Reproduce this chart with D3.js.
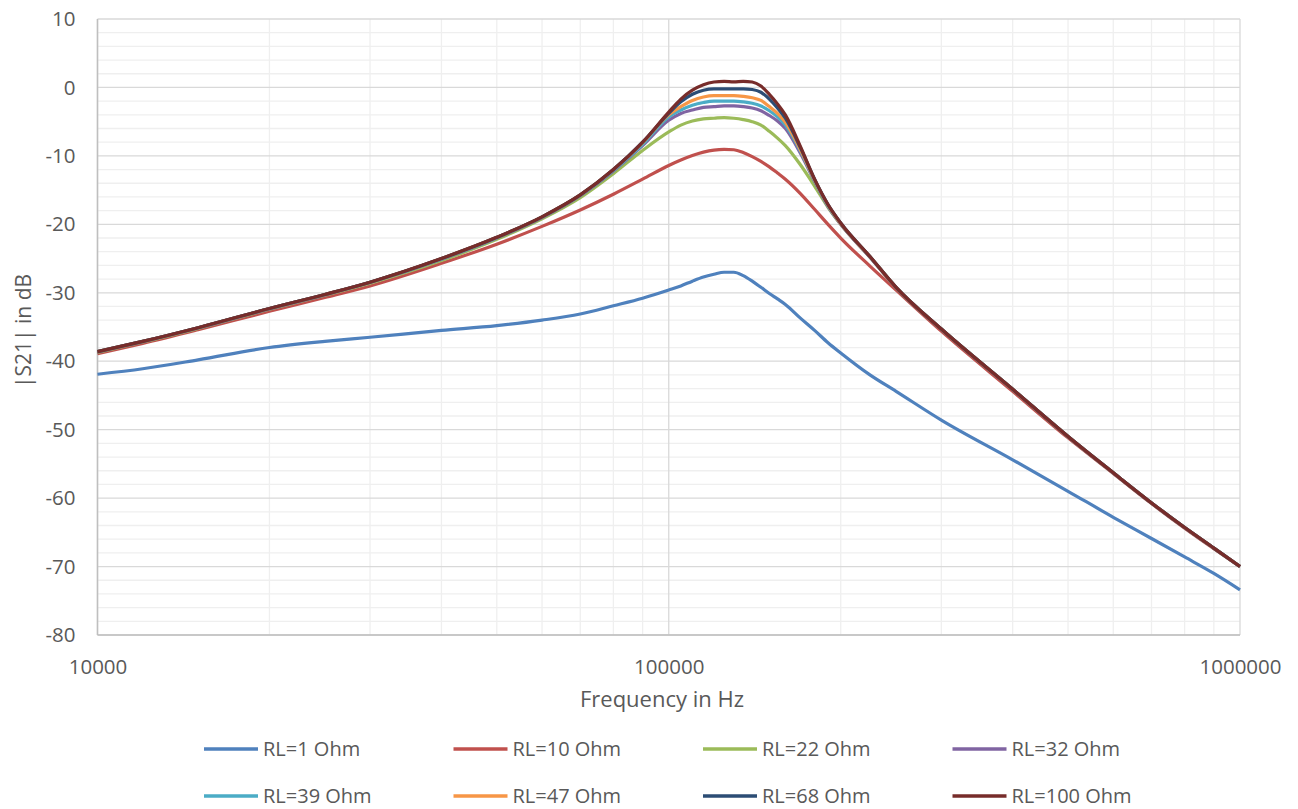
<!DOCTYPE html>
<html>
<head>
<meta charset="utf-8">
<script src="https://cdn.jsdelivr.net/npm/d3@7"></script>
<style>
  body { margin: 0; background: #fff; }
  svg { display: block; font-family: "Open Sans", sans-serif; }
</style>
</head>
<body>
<div id="chart"></div>
<script>
// frequency points (Hz)
const freqs = [10000, 12000, 15000, 20000, 25000, 30000, 40000, 50000, 60000, 70000, 80000, 90000,
  100000, 105000, 110000, 115000, 120000, 125000, 130000, 135000, 140000, 145000, 150000, 155000, 160000,
  170000, 180000, 190000, 200000, 225000, 250000, 300000, 400000, 500000, 600000, 700000, 800000, 900000, 1000000];

const rl1 = [-41.9, -41.1, -39.8, -38.0, -37.1, -36.5, -35.5, -34.8, -34.0, -33.1, -31.9, -30.8,
  -29.6, -29.0, -28.3, -27.7, -27.3, -27.0, -27.0, -27.5, -28.3, -29.2, -30.1, -30.9, -31.7,
  -33.7, -35.5, -37.3, -38.8, -42.0, -44.4, -48.6, -54.4, -59.0, -62.8, -65.9, -68.6, -71.0, -73.4];
const rl10 = [-38.9, -37.4, -35.4, -32.7, -30.7, -29.0, -25.7, -22.9, -20.3, -17.9, -15.6, -13.4,
  -11.4, -10.6, -9.95, -9.45, -9.15, -9.05, -9.1, -9.5, -10.1, -10.8, -11.6, -12.5, -13.4,
  -15.5, -17.8, -20.0, -22.0, -26.1, -29.6, -35.6, -44.4, -51.2, -56.4, -60.8, -64.4, -67.4, -70.0];
const rl22 = [-38.7, -37.2, -35.2, -32.4, -30.35, -28.6, -25.3, -22.2, -19.2, -16.1, -12.6, -9.2,
  -6.5, -5.5, -4.9, -4.6, -4.5, -4.4, -4.5, -4.7, -5.0, -5.5, -6.4, -7.4, -8.5,
  -11.3, -14.4, -17.5, -20.0, -24.8, -29.2, -35.3, -44.1, -51.0, -56.3, -60.7, -64.3, -67.3, -70.0];
const rl32 = [-38.65, -37.15, -35.15, -32.35, -30.3, -28.5, -25.1, -22.0, -19.0, -15.8, -12.2, -8.5,
  -4.8, -3.8, -3.3, -2.9, -2.8, -2.7, -2.7, -2.8, -3.0, -3.4, -4.1, -4.9, -6.0,
  -9.6, -13.7, -17.4, -20.0, -24.8, -29.2, -35.3, -44.1, -51.0, -56.3, -60.7, -64.3, -67.3, -70.0];
const rl39 = [-38.6, -37.1, -35.1, -32.3, -30.25, -28.45, -25.05, -21.95, -18.95, -15.75, -12.1, -8.3,
  -4.3, -3.3, -2.6, -2.2, -2.0, -2.0, -2.0, -2.1, -2.3, -2.7, -3.4, -4.3, -5.5,
  -9.3, -13.6, -17.3, -19.9, -24.7, -29.2, -35.3, -44.1, -51.0, -56.3, -60.7, -64.3, -67.3, -70.0];
const rl47 = [-38.6, -37.1, -35.1, -32.3, -30.25, -28.45, -25.0, -21.9, -18.9, -15.7, -12.0, -8.1,
  -4.0, -2.8, -1.9, -1.4, -1.2, -1.2, -1.2, -1.3, -1.5, -1.9, -2.8, -3.8, -5.1,
  -9.1, -13.5, -17.2, -19.9, -24.7, -29.2, -35.3, -44.1, -51.0, -56.3, -60.7, -64.3, -67.3, -70.0];
const rl68 = [-38.6, -37.1, -35.1, -32.3, -30.25, -28.45, -25.0, -21.9, -18.9, -15.7, -12.0, -8.0,
  -3.8, -2.1, -1.0, -0.4, -0.2, -0.2, -0.2, -0.2, -0.3, -0.7, -1.7, -3.0, -4.5,
  -8.8, -13.4, -17.1, -19.8, -24.7, -29.2, -35.3, -44.1, -51.0, -56.3, -60.7, -64.3, -67.3, -70.0];
const rl100 = [-38.6, -37.1, -35.1, -32.3, -30.25, -28.45, -25.0, -21.9, -18.9, -15.7, -12.0, -8.0,
  -3.6, -1.7, -0.4, 0.4, 0.8, 0.9, 0.8, 0.9, 0.8, 0.2, -1.0, -2.4, -4.0,
  -8.6, -13.4, -17.1, -19.8, -24.7, -29.2, -35.3, -44.1, -51.0, -56.3, -60.7, -64.3, -67.3, -70.0];

const seriesNames = ['RL=1 Ohm', 'RL=10 Ohm', 'RL=22 Ohm', 'RL=32 Ohm', 'RL=39 Ohm', 'RL=47 Ohm', 'RL=68 Ohm', 'RL=100 Ohm'];
const seriesValues = [rl1, rl10, rl22, rl32, rl39, rl47, rl68, rl100];
const colors = ['#4F81BD', '#C0504D', '#9BBB59', '#8064A2', '#4BACC6', '#F79646', '#2C4D75', '#772C2A'];

const yTicks = [10, 0, -10, -20, -30, -40, -50, -60, -70, -80];
const xTicks = [10000, 100000, 1000000];

const width = 1298, height = 809;
const margin = { top: 19, right: 58, bottom: 174, left: 97.5 };

let svg = d3.select('#chart')
  .append('svg')
  .attr('width', width)
  .attr('height', height);

let x = d3.scaleLog()
  .domain([1e4, 1e6])
  .range([margin.left, width - margin.right]);

let y = d3.scaleLinear()
  .domain([-80, 10])
  .range([height - margin.bottom, margin.top]);

// minor grid
let minorY = d3.range(-80, 11, 2).filter(v => v % 10 !== 0);
let minorX = [];
[1e4, 1e5].forEach(d => { for (let k = 2; k <= 9; k++) minorX.push(d * k); });

let grid = svg.append('g');
grid.selectAll('.my').data(minorY).enter().append('line')
  .attr('x1', x(1e4)).attr('x2', x(1e6))
  .attr('y1', d => y(d)).attr('y2', d => y(d))
  .attr('stroke', '#efefef').attr('stroke-width', 1.3);
grid.selectAll('.mx').data(minorX).enter().append('line')
  .attr('x1', d => x(d)).attr('x2', d => x(d))
  .attr('y1', y(10)).attr('y2', y(-80))
  .attr('stroke', '#efefef').attr('stroke-width', 1.3);
// major grid
grid.selectAll('.My').data(yTicks).enter().append('line')
  .attr('x1', x(1e4)).attr('x2', x(1e6))
  .attr('y1', d => y(d)).attr('y2', d => y(d))
  .attr('stroke', '#d9d9d9').attr('stroke-width', 1.3);
grid.selectAll('.Mx').data(xTicks).enter().append('line')
  .attr('x1', d => x(d)).attr('x2', d => x(d))
  .attr('y1', y(10)).attr('y2', y(-80))
  .attr('stroke', '#d9d9d9').attr('stroke-width', 1.3);

// axes
svg.append('line')
  .attr('x1', x(1e4)).attr('x2', x(1e4))
  .attr('y1', y(10)).attr('y2', y(-80))
  .attr('stroke', '#bfbfbf').attr('stroke-width', 1.5);
svg.append('line')
  .attr('x1', x(1e4)).attr('x2', x(1e6))
  .attr('y1', y(-80)).attr('y2', y(-80))
  .attr('stroke', '#bfbfbf').attr('stroke-width', 1.5);

let yAxis = svg.append('g')
  .attr('transform', `translate(${margin.left}, 0)`)
  .call(d3.axisLeft(y).tickValues(yTicks).tickSize(0).tickPadding(22).tickFormat(d => String(d)));
let xAxis = svg.append('g')
  .attr('transform', `translate(0, ${y(-80)})`)
  .call(d3.axisBottom(x).tickValues(xTicks).tickSize(0).tickPadding(24).tickFormat(d => String(d)));
[yAxis, xAxis].forEach(a => {
  a.select('.domain').remove();
  a.selectAll('text').style('font-size', '20.5px').style('fill', '#595959').style('font-family', '"Open Sans", sans-serif');
});

// lines
let line = d3.line()
  .x((d, i) => x(freqs[i]))
  .y(d => y(d))
  .curve(d3.curveMonotoneX);

svg.append('g').selectAll('path')
  .data(seriesValues)
  .enter()
  .append('path')
  .attr('d', d => line(d))
  .attr('fill', 'none')
  .attr('stroke', (d, i) => colors[i])
  .attr('stroke-width', 3.2)
  .attr('stroke-linejoin', 'round');

// axis titles
svg.append('text')
  .attr('x', 662)
  .attr('y', 707)
  .style('text-anchor', 'middle')
  .style('font-size', '22px')
  .style('fill', '#595959')
  .text('Frequency in Hz');

svg.append('text')
  .attr('transform', `translate(31, 331) rotate(-90)`)
  .style('text-anchor', 'middle')
  .style('font-size', '21px')
  .style('fill', '#595959')
  .text('|S21| in dB');

// legend
let legend = svg.append('g');
let items = legend.selectAll('g')
  .data(seriesNames)
  .enter()
  .append('g')
  .attr('transform', (d, i) => `translate(${204 + (i % 4) * 249.5}, ${i < 4 ? 749 : 796})`);
items.append('line')
  .attr('x1', 0).attr('x2', 54)
  .attr('y1', 0).attr('y2', 0)
  .attr('stroke', (d, i) => colors[i])
  .attr('stroke-width', 3.5);
items.append('text')
  .attr('x', 59)
  .attr('y', 0)
  .attr('dy', '0.35em')
  .style('font-size', '20px')
  .style('fill', '#595959')
  .text(d => d);
</script>
</body>
</html>
